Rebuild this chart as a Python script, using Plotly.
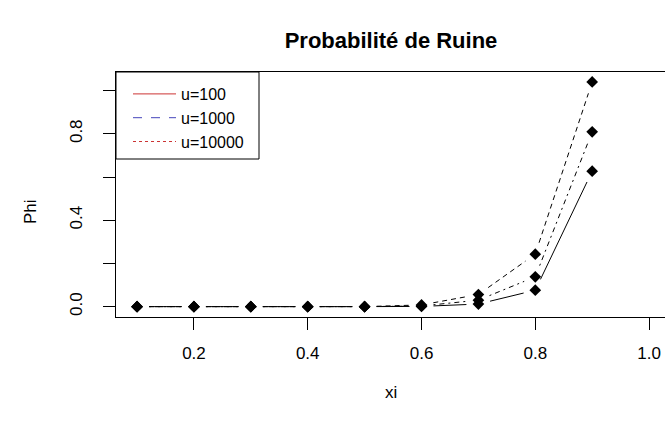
import math
import plotly.graph_objects as go

# ---- data ----
xi = [0.1, 0.2, 0.3, 0.4, 0.5, 0.6, 0.7, 0.8, 0.9]
phi_solid = [0.0, 0.0, 0.0, 0.0, 0.0, 0.001, 0.012, 0.076, 0.627]
phi_dotdash = [0.0, 0.0, 0.0, 0.0, 0.0, 0.003, 0.030, 0.138, 0.809]
phi_dashed = [0.0, 0.0, 0.0, 0.0, 0.0, 0.008, 0.056, 0.243, 1.040]
legend_labels = ["u=100", "u=1000", "u=10000"]
x_ticks = [0.2, 0.4, 0.6, 0.8, 1.0]
y_ticks = [0.0, 0.2, 0.4, 0.6, 0.8, 1.0]
y_ticktext = ["0.0", "", "0.4", "", "0.8", ""]

# ---- layout geometry ----
W, H = 665, 425
ML, MR, MT, MB = 116, 0, 72, 108
XR = [0.063, 1.028]
YR = [-0.048, 1.086]
plot_w = W - ML - MR
plot_h = H - MT - MB
pxx = plot_w / (XR[1] - XR[0])
pxy = plot_h / (YR[1] - YR[0])
GAP = 12  # px gap around points (R type="b")


def gapped(xs, ys):
    gx, gy = [], []
    for i in range(len(xs) - 1):
        dx = (xs[i + 1] - xs[i]) * pxx
        dy = (ys[i + 1] - ys[i]) * pxy
        L = math.hypot(dx, dy)
        if L <= 2 * GAP:
            continue
        t = GAP / L
        ddx = xs[i + 1] - xs[i]
        ddy = ys[i + 1] - ys[i]
        gx += [xs[i] + t * ddx, xs[i + 1] - t * ddx, None]
        gy += [ys[i] + t * ddy, ys[i + 1] - t * ddy, None]
    return gx, gy


fig = go.Figure()
series = [
    (phi_solid, "solid"),
    (phi_dashed, "5px,4px"),
    (phi_dotdash, "2px,4px,5px,4px"),
]
for ys, dash in series:
    gx, gy = gapped(xi, ys)
    fig.add_trace(go.Scatter(x=gx, y=gy, mode="lines", showlegend=False,
                             line=dict(color="black", width=1, dash=dash),
                             hoverinfo="skip"))
for ys, dash in series:
    fig.add_trace(go.Scatter(x=xi, y=ys, mode="markers", showlegend=False,
                             marker=dict(symbol="diamond", size=9, color="black")))

# legend entries (colours as in the original legend)
leg_styles = [("#CC3333", "solid"), ("#4444BB", "dash"), ("#CC3333", "dot")]
for lab, (col, dash) in zip(legend_labels, leg_styles):
    fig.add_trace(go.Scatter(x=[None], y=[None], mode="lines", name=lab,
                             line=dict(color=col, width=1, dash=dash)))

font = "Liberation Sans, Arial, sans-serif"
fig.update_layout(
    width=W, height=H,
    margin=dict(l=ML, r=MR, t=MT, b=MB),
    paper_bgcolor="white", plot_bgcolor="white",
    font=dict(family=font, size=17, color="black"),
    title=dict(text="<b>Probabilité de Ruine</b>", x=391 / W, xanchor="center",
               y=1 - 40 / H, yanchor="middle", font=dict(size=22, family=font, color="black")),
    xaxis=dict(range=XR, tickvals=x_ticks, ticktext=[f"{v:.1f}" for v in x_ticks],
               showgrid=False, zeroline=False, showline=True, linecolor="black", linewidth=1,
               mirror=True, ticks="outside", ticklen=12, tickcolor="black",
               tickfont=dict(size=17), ticklabelstandoff=9),
    yaxis=dict(range=YR, tickvals=y_ticks, ticktext=y_ticktext, tickangle=-90,
               showgrid=False, zeroline=False, showline=True, linecolor="black", linewidth=1,
               ticks="outside", ticklen=12, tickcolor="black",
               tickfont=dict(size=17), ticklabelstandoff=14),
    legend=dict(x=12 / plot_w, y=1 - 5 / plot_h, xanchor="left", yanchor="top",
                bgcolor="rgba(0,0,0,0)", borderwidth=0, font=dict(size=16), itemwidth=43,
                tracegroupgap=0),
    shapes=[dict(type="rect", xref="paper", yref="paper", x0=0, x1=(259 - ML) / plot_w,
                 y0=1 - (159 - MT) / plot_h, y1=1, line=dict(color="black", width=1),
                 fillcolor="white", layer="below")],
    annotations=[
        dict(text="xi", xref="paper", yref="paper", x=(391 - ML) / plot_w, y=-(392 - MT - plot_h) / plot_h,
             showarrow=False, font=dict(size=17), xanchor="center", yanchor="middle"),
        dict(text="Phi", xref="paper", yref="paper", x=-(ML - 30) / plot_w, y=(MT + plot_h - 212) / plot_h,
             showarrow=False, font=dict(size=17), textangle=-90, xanchor="center", yanchor="middle"),
    ],
)
fig.write_html("out.html")
